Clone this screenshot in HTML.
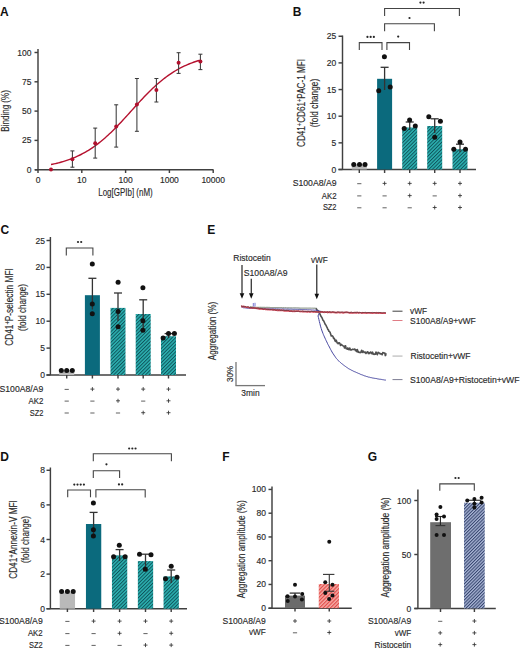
<!DOCTYPE html>
<html><head><meta charset="utf-8"><style>
html,body{margin:0;padding:0;background:#fff;width:520px;height:650px;overflow:hidden;position:relative}
svg text{font-family:"Liberation Sans", sans-serif}
</style></head><body>
<svg width="520" height="650" viewBox="0 0 520 650" style="position:absolute;left:0;top:0;font-family:'Liberation Sans', sans-serif">
<defs>
<pattern id="hT" patternUnits="userSpaceOnUse" width="2.5" height="2.5" patternTransform="rotate(45)">
<rect width="2.5" height="2.5" fill="#2cb0b0"/><rect x="0" y="0" width="0.95" height="2.5" fill="#0e535a"/></pattern>
<pattern id="hR" patternUnits="userSpaceOnUse" width="2.6" height="2.6" patternTransform="rotate(45)">
<rect width="2.6" height="2.6" fill="#f6a8a4"/><rect x="0" y="0" width="1.1" height="2.6" fill="#e04a46"/></pattern>
<pattern id="hB" patternUnits="userSpaceOnUse" width="2.3" height="2.3" patternTransform="rotate(45)">
<rect width="2.3" height="2.3" fill="#a9b5d5"/><rect x="0" y="0" width="1.0" height="2.3" fill="#34436c"/></pattern>
</defs>
<rect width="520" height="650" fill="#fff"/>
<text x="0" y="15.9" font-size="12" text-anchor="start" fill="#111" font-weight="bold">A</text>
<line x1="38" y1="49" x2="38" y2="169.8" stroke="#404040" stroke-width="1.45"/>
<line x1="35" y1="169.8" x2="213.5" y2="169.8" stroke="#404040" stroke-width="1.45"/>
<line x1="34.5" y1="52.5" x2="38" y2="52.5" stroke="#404040" stroke-width="1.45"/>
<text x="31.5" y="55.5" font-size="8.5" text-anchor="end" fill="#2a2a2a" font-weight="normal" stroke="#2a2a2a" stroke-width="0.15">100</text>
<line x1="34.5" y1="81.8" x2="38" y2="81.8" stroke="#404040" stroke-width="1.45"/>
<text x="31.5" y="84.8" font-size="8.5" text-anchor="end" fill="#2a2a2a" font-weight="normal" stroke="#2a2a2a" stroke-width="0.15">75</text>
<line x1="34.5" y1="111.1" x2="38" y2="111.1" stroke="#404040" stroke-width="1.45"/>
<text x="31.5" y="114.1" font-size="8.5" text-anchor="end" fill="#2a2a2a" font-weight="normal" stroke="#2a2a2a" stroke-width="0.15">50</text>
<line x1="34.5" y1="140.4" x2="38" y2="140.4" stroke="#404040" stroke-width="1.45"/>
<text x="31.5" y="143.4" font-size="8.5" text-anchor="end" fill="#2a2a2a" font-weight="normal" stroke="#2a2a2a" stroke-width="0.15">25</text>
<line x1="34.5" y1="169.8" x2="38" y2="169.8" stroke="#404040" stroke-width="1.45"/>
<text x="31.5" y="172.8" font-size="8.5" text-anchor="end" fill="#2a2a2a" font-weight="normal" stroke="#2a2a2a" stroke-width="0.15">0</text>
<line x1="38" y1="169.8" x2="38" y2="173" stroke="#404040" stroke-width="1.45"/>
<text x="38" y="183" font-size="8.5" text-anchor="middle" fill="#2a2a2a" font-weight="normal" stroke="#2a2a2a" stroke-width="0.15">0</text>
<line x1="81.8" y1="169.8" x2="81.8" y2="173" stroke="#404040" stroke-width="1.45"/>
<text x="81.8" y="183" font-size="8.5" text-anchor="middle" fill="#2a2a2a" font-weight="normal" stroke="#2a2a2a" stroke-width="0.15">10</text>
<line x1="125.6" y1="169.8" x2="125.6" y2="173" stroke="#404040" stroke-width="1.45"/>
<text x="125.6" y="183" font-size="8.5" text-anchor="middle" fill="#2a2a2a" font-weight="normal" stroke="#2a2a2a" stroke-width="0.15">100</text>
<line x1="169.4" y1="169.8" x2="169.4" y2="173" stroke="#404040" stroke-width="1.45"/>
<text x="169.4" y="183" font-size="8.5" text-anchor="middle" fill="#2a2a2a" font-weight="normal" stroke="#2a2a2a" stroke-width="0.15">1000</text>
<line x1="213.2" y1="169.8" x2="213.2" y2="173" stroke="#404040" stroke-width="1.45"/>
<text x="213.2" y="183" font-size="8.5" text-anchor="middle" fill="#2a2a2a" font-weight="normal" stroke="#2a2a2a" stroke-width="0.15">10000</text>
<text x="125.5" y="196.3" font-size="10" text-anchor="middle" fill="#2a2a2a" font-weight="normal" textLength="54.5" lengthAdjust="spacingAndGlyphs" stroke="#2a2a2a" stroke-width="0.15">Log[GPIb] (nM)</text>
<text x="8.6" y="110.9" font-size="10" text-anchor="middle" fill="#2a2a2a" font-weight="normal" transform="rotate(-90 8.6 110.9)" textLength="41.5" lengthAdjust="spacingAndGlyphs" stroke="#2a2a2a" stroke-width="0.15">Binding (%)</text>
<polyline points="51.00,164.54 52.50,164.24 54.00,163.92 55.50,163.58 57.00,163.22 58.50,162.85 60.00,162.46 61.50,162.04 63.00,161.61 64.50,161.16 66.00,160.68 67.50,160.18 69.00,159.66 70.50,159.11 72.00,158.54 73.50,157.94 75.00,157.31 76.50,156.65 78.00,155.97 79.50,155.25 81.00,154.50 82.50,153.73 84.00,152.92 85.50,152.07 87.00,151.20 88.50,150.29 90.00,149.34 91.50,148.36 93.00,147.34 94.50,146.29 96.00,145.20 97.50,144.08 99.00,142.92 100.50,141.73 102.00,140.49 103.50,139.23 105.00,137.93 106.50,136.59 108.00,135.23 109.50,133.83 111.00,132.40 112.50,130.94 114.00,129.45 115.50,127.94 117.00,126.40 118.50,124.84 120.00,123.25 121.50,121.65 123.00,120.04 124.50,118.40 126.00,116.76 127.50,115.11 129.00,113.45 130.50,111.79 132.00,110.13 133.50,108.47 135.00,106.81 136.50,105.16 138.00,103.51 139.50,101.88 141.00,100.27 142.50,98.67 144.00,97.08 145.50,95.52 147.00,93.98 148.50,92.47 150.00,90.98 151.50,89.52 153.00,88.09 154.50,86.70 156.00,85.33 157.50,84.00 159.00,82.69 160.50,81.43 162.00,80.20 163.50,79.00 165.00,77.84 166.50,76.72 168.00,75.63 169.50,74.58 171.00,73.57 172.50,72.59 174.00,71.64 175.50,70.73 177.00,69.85 178.50,69.01 180.00,68.20 181.50,67.43 183.00,66.68 184.50,65.96 186.00,65.28 187.50,64.62 189.00,64.00 190.50,63.40 192.00,62.82 193.50,62.28 195.00,61.75 196.50,61.25 198.00,60.78 199.50,60.32" fill="none" stroke="#b5122f" stroke-width="1.4"/>
<line x1="72.4" y1="150.9" x2="72.4" y2="167.2" stroke="#3a3a3a" stroke-width="1.05"/>
<line x1="70.4" y1="150.9" x2="74.4" y2="150.9" stroke="#3a3a3a" stroke-width="1.05"/>
<line x1="70.4" y1="167.2" x2="74.4" y2="167.2" stroke="#3a3a3a" stroke-width="1.05"/>
<line x1="95.2" y1="128.1" x2="95.2" y2="158.1" stroke="#3a3a3a" stroke-width="1.05"/>
<line x1="93.2" y1="128.1" x2="97.2" y2="128.1" stroke="#3a3a3a" stroke-width="1.05"/>
<line x1="93.2" y1="158.1" x2="97.2" y2="158.1" stroke="#3a3a3a" stroke-width="1.05"/>
<line x1="116.2" y1="104.8" x2="116.2" y2="147.1" stroke="#3a3a3a" stroke-width="1.05"/>
<line x1="114.2" y1="104.8" x2="118.2" y2="104.8" stroke="#3a3a3a" stroke-width="1.05"/>
<line x1="114.2" y1="147.1" x2="118.2" y2="147.1" stroke="#3a3a3a" stroke-width="1.05"/>
<line x1="136.9" y1="78.5" x2="136.9" y2="131.3" stroke="#3a3a3a" stroke-width="1.05"/>
<line x1="134.9" y1="78.5" x2="138.9" y2="78.5" stroke="#3a3a3a" stroke-width="1.05"/>
<line x1="134.9" y1="131.3" x2="138.9" y2="131.3" stroke="#3a3a3a" stroke-width="1.05"/>
<line x1="156.4" y1="78.5" x2="156.4" y2="102" stroke="#3a3a3a" stroke-width="1.05"/>
<line x1="154.4" y1="78.5" x2="158.4" y2="78.5" stroke="#3a3a3a" stroke-width="1.05"/>
<line x1="154.4" y1="102" x2="158.4" y2="102" stroke="#3a3a3a" stroke-width="1.05"/>
<line x1="178.6" y1="52.7" x2="178.6" y2="73.4" stroke="#3a3a3a" stroke-width="1.05"/>
<line x1="176.6" y1="52.7" x2="180.6" y2="52.7" stroke="#3a3a3a" stroke-width="1.05"/>
<line x1="176.6" y1="73.4" x2="180.6" y2="73.4" stroke="#3a3a3a" stroke-width="1.05"/>
<line x1="200.4" y1="54.2" x2="200.4" y2="69.6" stroke="#3a3a3a" stroke-width="1.05"/>
<line x1="198.4" y1="54.2" x2="202.4" y2="54.2" stroke="#3a3a3a" stroke-width="1.05"/>
<line x1="198.4" y1="69.6" x2="202.4" y2="69.6" stroke="#3a3a3a" stroke-width="1.05"/>
<circle cx="51" cy="169.6" r="2.0" fill="#b0102d"/>
<circle cx="72.4" cy="159.2" r="2.0" fill="#b0102d"/>
<circle cx="95.2" cy="143.3" r="2.0" fill="#b0102d"/>
<circle cx="116.2" cy="126.4" r="2.0" fill="#b0102d"/>
<circle cx="136.9" cy="104.6" r="2.0" fill="#b0102d"/>
<circle cx="156.4" cy="90.1" r="2.0" fill="#b0102d"/>
<circle cx="178.6" cy="62.8" r="2.0" fill="#b0102d"/>
<circle cx="200.4" cy="61.6" r="2.0" fill="#b0102d"/>
<text x="292.8" y="15.9" font-size="12" text-anchor="start" fill="#111" font-weight="bold">B</text>
<line x1="342.5" y1="35.5" x2="342.5" y2="169.5" stroke="#404040" stroke-width="1.45"/>
<line x1="338.5" y1="169.5" x2="476" y2="169.5" stroke="#404040" stroke-width="1.45"/>
<line x1="338.5" y1="36.25" x2="342.5" y2="36.25" stroke="#404040" stroke-width="1.45"/>
<text x="336.3" y="39.25" font-size="8.5" text-anchor="end" fill="#2a2a2a" font-weight="normal" stroke="#2a2a2a" stroke-width="0.15">25</text>
<line x1="338.5" y1="62.900000000000006" x2="342.5" y2="62.900000000000006" stroke="#404040" stroke-width="1.45"/>
<text x="336.3" y="65.9" font-size="8.5" text-anchor="end" fill="#2a2a2a" font-weight="normal" stroke="#2a2a2a" stroke-width="0.15">20</text>
<line x1="338.5" y1="89.55" x2="342.5" y2="89.55" stroke="#404040" stroke-width="1.45"/>
<text x="336.3" y="92.55" font-size="8.5" text-anchor="end" fill="#2a2a2a" font-weight="normal" stroke="#2a2a2a" stroke-width="0.15">15</text>
<line x1="338.5" y1="116.2" x2="342.5" y2="116.2" stroke="#404040" stroke-width="1.45"/>
<text x="336.3" y="119.2" font-size="8.5" text-anchor="end" fill="#2a2a2a" font-weight="normal" stroke="#2a2a2a" stroke-width="0.15">10</text>
<line x1="338.5" y1="142.85" x2="342.5" y2="142.85" stroke="#404040" stroke-width="1.45"/>
<text x="336.3" y="145.85" font-size="8.5" text-anchor="end" fill="#2a2a2a" font-weight="normal" stroke="#2a2a2a" stroke-width="0.15">5</text>
<line x1="338.5" y1="169.5" x2="342.5" y2="169.5" stroke="#404040" stroke-width="1.45"/>
<text x="336.3" y="172.5" font-size="8.5" text-anchor="end" fill="#2a2a2a" font-weight="normal" stroke="#2a2a2a" stroke-width="0.15">0</text>
<rect x="351.8" y="164.3" width="15" height="5.199999999999989" fill="#b9b9b9"/>
<rect x="377.1" y="78.8" width="15" height="90.7" fill="#0b6a7d"/>
<rect x="402.2" y="127.5" width="15" height="42.0" fill="url(#hT)"/>
<rect x="427.2" y="126" width="15" height="43.5" fill="url(#hT)"/>
<rect x="452.5" y="149.2" width="15" height="20.30000000000001" fill="url(#hT)"/>
<line x1="359.3" y1="169.5" x2="359.3" y2="173" stroke="#404040" stroke-width="1.45"/>
<line x1="384.6" y1="169.5" x2="384.6" y2="173" stroke="#404040" stroke-width="1.45"/>
<line x1="409.7" y1="169.5" x2="409.7" y2="173" stroke="#404040" stroke-width="1.45"/>
<line x1="434.7" y1="169.5" x2="434.7" y2="173" stroke="#404040" stroke-width="1.45"/>
<line x1="460" y1="169.5" x2="460" y2="173" stroke="#404040" stroke-width="1.45"/>
<line x1="384.6" y1="67.3" x2="384.6" y2="90" stroke="#333" stroke-width="1.3"/>
<line x1="380.6" y1="67.3" x2="388.6" y2="67.3" stroke="#333" stroke-width="1.3"/>
<line x1="409.7" y1="122" x2="409.7" y2="130" stroke="#333" stroke-width="1.3"/>
<line x1="405.7" y1="122" x2="413.7" y2="122" stroke="#333" stroke-width="1.3"/>
<line x1="434.7" y1="118.8" x2="434.7" y2="133" stroke="#333" stroke-width="1.3"/>
<line x1="430.7" y1="118.8" x2="438.7" y2="118.8" stroke="#333" stroke-width="1.3"/>
<line x1="460" y1="144.2" x2="460" y2="152" stroke="#333" stroke-width="1.3"/>
<line x1="456.0" y1="144.2" x2="464.0" y2="144.2" stroke="#333" stroke-width="1.3"/>
<circle cx="353.75" cy="164.5" r="2.5" fill="#111"/>
<circle cx="359.5" cy="164.5" r="2.5" fill="#111"/>
<circle cx="365" cy="164.5" r="2.5" fill="#111"/>
<circle cx="384.4" cy="56.7" r="2.5" fill="#111"/>
<circle cx="378.7" cy="90.8" r="2.5" fill="#111"/>
<circle cx="390.2" cy="86.9" r="2.5" fill="#111"/>
<circle cx="404.2" cy="128.5" r="2.5" fill="#111"/>
<circle cx="409.6" cy="119.9" r="2.5" fill="#111"/>
<circle cx="415.3" cy="126" r="2.5" fill="#111"/>
<circle cx="428.8" cy="116.8" r="2.5" fill="#111"/>
<circle cx="440.4" cy="121.2" r="2.5" fill="#111"/>
<circle cx="434.7" cy="137.3" r="2.5" fill="#111"/>
<circle cx="453.8" cy="149.2" r="2.5" fill="#111"/>
<circle cx="460" cy="142" r="2.5" fill="#111"/>
<circle cx="465.5" cy="149.2" r="2.5" fill="#111"/>
<path d="M359.3 50 V42.6 H382 V50" fill="none" stroke="#444" stroke-width="1.1"/>
<circle cx="367.45" cy="36.9" r="1.1" fill="#262626"/>
<circle cx="370.65" cy="36.9" r="1.1" fill="#262626"/>
<circle cx="373.84999999999997" cy="36.9" r="1.1" fill="#262626"/>
<path d="M386.9 50 V42.6 H409.5 V50" fill="none" stroke="#444" stroke-width="1.1"/>
<circle cx="398.2" cy="36.6" r="1.1" fill="#262626"/>
<path d="M384.6 31.3 V23.8 H434.4 V31.3" fill="none" stroke="#444" stroke-width="1.1"/>
<circle cx="409.5" cy="18" r="1.1" fill="#262626"/>
<path d="M384.6 16 V8.5 H459.4 V16" fill="none" stroke="#444" stroke-width="1.1"/>
<circle cx="420.4" cy="2.6" r="1.1" fill="#262626"/>
<circle cx="423.6" cy="2.6" r="1.1" fill="#262626"/>
<text x="336.5" y="186.3" font-size="8.8" text-anchor="end" fill="#2a2a2a" font-weight="normal" textLength="43.8" lengthAdjust="spacingAndGlyphs" stroke="#2a2a2a" stroke-width="0.15">S100A8/A9</text>
<text x="336.5" y="198.5" font-size="8.8" text-anchor="end" fill="#2a2a2a" font-weight="normal" textLength="14.8" lengthAdjust="spacingAndGlyphs" stroke="#2a2a2a" stroke-width="0.15">AK2</text>
<text x="336.5" y="210.4" font-size="8.8" text-anchor="end" fill="#2a2a2a" font-weight="normal" textLength="13.6" lengthAdjust="spacingAndGlyphs" stroke="#2a2a2a" stroke-width="0.15">SZ2</text>
<path d="M357.20 183.70 h4.2" stroke="#444" stroke-width="0.85" fill="none"/>
<path d="M382.60 183.40 h4 M384.60 181.40 v4" stroke="#333" stroke-width="0.85" fill="none"/>
<path d="M407.70 183.40 h4 M409.70 181.40 v4" stroke="#333" stroke-width="0.85" fill="none"/>
<path d="M432.70 183.40 h4 M434.70 181.40 v4" stroke="#333" stroke-width="0.85" fill="none"/>
<path d="M458.00 183.40 h4 M460.00 181.40 v4" stroke="#333" stroke-width="0.85" fill="none"/>
<path d="M357.20 195.90 h4.2" stroke="#444" stroke-width="0.85" fill="none"/>
<path d="M382.50 195.90 h4.2" stroke="#444" stroke-width="0.85" fill="none"/>
<path d="M407.70 195.60 h4 M409.70 193.60 v4" stroke="#333" stroke-width="0.85" fill="none"/>
<path d="M432.60 195.90 h4.2" stroke="#444" stroke-width="0.85" fill="none"/>
<path d="M458.00 195.60 h4 M460.00 193.60 v4" stroke="#333" stroke-width="0.85" fill="none"/>
<path d="M357.20 207.80 h4.2" stroke="#444" stroke-width="0.85" fill="none"/>
<path d="M382.50 207.80 h4.2" stroke="#444" stroke-width="0.85" fill="none"/>
<path d="M407.60 207.80 h4.2" stroke="#444" stroke-width="0.85" fill="none"/>
<path d="M432.70 207.50 h4 M434.70 205.50 v4" stroke="#333" stroke-width="0.85" fill="none"/>
<path d="M458.00 207.50 h4 M460.00 205.50 v4" stroke="#333" stroke-width="0.85" fill="none"/>
<text x="304.5" y="103" font-size="10" text-anchor="middle" fill="#2a2a2a" font-weight="normal" transform="rotate(-90 304.5 103)" textLength="88" lengthAdjust="spacingAndGlyphs" stroke="#2a2a2a" stroke-width="0.15">CD41<tspan font-size="7" dy="-2.6">+</tspan><tspan dy="2.6">CD61</tspan><tspan font-size="7" dy="-2.6">+</tspan><tspan dy="2.6">PAC-1 MFI</tspan></text>
<text x="318" y="103" font-size="10" text-anchor="middle" fill="#2a2a2a" font-weight="normal" transform="rotate(-90 318 103)" textLength="48.4" lengthAdjust="spacingAndGlyphs" stroke="#2a2a2a" stroke-width="0.15">(fold change)</text>
<text x="0.4" y="234.1" font-size="12" text-anchor="start" fill="#111" font-weight="bold">C</text>
<line x1="50.4" y1="237" x2="50.4" y2="375" stroke="#404040" stroke-width="1.45"/>
<line x1="46.5" y1="375" x2="186" y2="375" stroke="#404040" stroke-width="1.45"/>
<line x1="46.5" y1="240.5" x2="50.4" y2="240.5" stroke="#404040" stroke-width="1.45"/>
<text x="45" y="243.5" font-size="8.5" text-anchor="end" fill="#2a2a2a" font-weight="normal" stroke="#2a2a2a" stroke-width="0.15">25</text>
<line x1="46.5" y1="267.4" x2="50.4" y2="267.4" stroke="#404040" stroke-width="1.45"/>
<text x="45" y="270.4" font-size="8.5" text-anchor="end" fill="#2a2a2a" font-weight="normal" stroke="#2a2a2a" stroke-width="0.15">20</text>
<line x1="46.5" y1="294.3" x2="50.4" y2="294.3" stroke="#404040" stroke-width="1.45"/>
<text x="45" y="297.3" font-size="8.5" text-anchor="end" fill="#2a2a2a" font-weight="normal" stroke="#2a2a2a" stroke-width="0.15">15</text>
<line x1="46.5" y1="321.2" x2="50.4" y2="321.2" stroke="#404040" stroke-width="1.45"/>
<text x="45" y="324.2" font-size="8.5" text-anchor="end" fill="#2a2a2a" font-weight="normal" stroke="#2a2a2a" stroke-width="0.15">10</text>
<line x1="46.5" y1="348.1" x2="50.4" y2="348.1" stroke="#404040" stroke-width="1.45"/>
<text x="45" y="351.1" font-size="8.5" text-anchor="end" fill="#2a2a2a" font-weight="normal" stroke="#2a2a2a" stroke-width="0.15">5</text>
<line x1="46.5" y1="375.0" x2="50.4" y2="375.0" stroke="#404040" stroke-width="1.45"/>
<text x="45" y="378.0" font-size="8.5" text-anchor="end" fill="#2a2a2a" font-weight="normal" stroke="#2a2a2a" stroke-width="0.15">0</text>
<rect x="59.2" y="370.3" width="15" height="4.699999999999989" fill="#b9b9b9"/>
<rect x="84.9" y="295.2" width="15" height="79.80000000000001" fill="#0b6a7d"/>
<rect x="110.5" y="307.9" width="15" height="67.10000000000002" fill="url(#hT)"/>
<rect x="135.7" y="314" width="15" height="61" fill="url(#hT)"/>
<rect x="161.0" y="336.2" width="15" height="38.80000000000001" fill="url(#hT)"/>
<line x1="66.7" y1="375" x2="66.7" y2="378.5" stroke="#404040" stroke-width="1.45"/>
<line x1="92.4" y1="375" x2="92.4" y2="378.5" stroke="#404040" stroke-width="1.45"/>
<line x1="118" y1="375" x2="118" y2="378.5" stroke="#404040" stroke-width="1.45"/>
<line x1="143.2" y1="375" x2="143.2" y2="378.5" stroke="#404040" stroke-width="1.45"/>
<line x1="168.5" y1="375" x2="168.5" y2="378.5" stroke="#404040" stroke-width="1.45"/>
<line x1="92.4" y1="278.3" x2="92.4" y2="309.5" stroke="#333" stroke-width="1.3"/>
<line x1="88.4" y1="278.3" x2="96.4" y2="278.3" stroke="#333" stroke-width="1.3"/>
<line x1="118" y1="293" x2="118" y2="321" stroke="#333" stroke-width="1.3"/>
<line x1="114.0" y1="293" x2="122.0" y2="293" stroke="#333" stroke-width="1.3"/>
<line x1="143.2" y1="299.8" x2="143.2" y2="328" stroke="#333" stroke-width="1.3"/>
<line x1="139.2" y1="299.8" x2="147.2" y2="299.8" stroke="#333" stroke-width="1.3"/>
<line x1="168.5" y1="333.6" x2="168.5" y2="338" stroke="#333" stroke-width="1.3"/>
<line x1="164.6" y1="333.6" x2="172.4" y2="333.6" stroke="#333" stroke-width="1.3"/>
<circle cx="61.3" cy="370.4" r="2.5" fill="#111"/>
<circle cx="66.7" cy="370.4" r="2.5" fill="#111"/>
<circle cx="72.3" cy="370.4" r="2.5" fill="#111"/>
<circle cx="92.3" cy="264" r="2.5" fill="#111"/>
<circle cx="92.3" cy="303.9" r="2.5" fill="#111"/>
<circle cx="92.3" cy="313.8" r="2.5" fill="#111"/>
<circle cx="118.1" cy="282.3" r="2.5" fill="#111"/>
<circle cx="118.1" cy="311.4" r="2.5" fill="#111"/>
<circle cx="118.1" cy="326.7" r="2.5" fill="#111"/>
<circle cx="142.9" cy="287.7" r="2.5" fill="#111"/>
<circle cx="142.9" cy="320.8" r="2.5" fill="#111"/>
<circle cx="142.9" cy="330.2" r="2.5" fill="#111"/>
<circle cx="163.1" cy="338" r="2.5" fill="#111"/>
<circle cx="168.5" cy="333.5" r="2.5" fill="#111"/>
<circle cx="174.4" cy="333.5" r="2.5" fill="#111"/>
<path d="M66.3 255.4 V248 H92.9 V255.4" fill="none" stroke="#444" stroke-width="1.1"/>
<circle cx="78.0" cy="242" r="1.1" fill="#262626"/>
<circle cx="81.19999999999999" cy="242" r="1.1" fill="#262626"/>
<text x="43.3" y="392" font-size="8.8" text-anchor="end" fill="#2a2a2a" font-weight="normal" textLength="43.8" lengthAdjust="spacingAndGlyphs" stroke="#2a2a2a" stroke-width="0.15">S100A8/A9</text>
<text x="43.3" y="403.7" font-size="8.8" text-anchor="end" fill="#2a2a2a" font-weight="normal" textLength="14.8" lengthAdjust="spacingAndGlyphs" stroke="#2a2a2a" stroke-width="0.15">AK2</text>
<text x="43.3" y="415.6" font-size="8.8" text-anchor="end" fill="#2a2a2a" font-weight="normal" textLength="13.6" lengthAdjust="spacingAndGlyphs" stroke="#2a2a2a" stroke-width="0.15">SZ2</text>
<path d="M64.60 389.40 h4.2" stroke="#444" stroke-width="0.85" fill="none"/>
<path d="M90.40 389.10 h4 M92.40 387.10 v4" stroke="#333" stroke-width="0.85" fill="none"/>
<path d="M116.00 389.10 h4 M118.00 387.10 v4" stroke="#333" stroke-width="0.85" fill="none"/>
<path d="M141.20 389.10 h4 M143.20 387.10 v4" stroke="#333" stroke-width="0.85" fill="none"/>
<path d="M166.50 389.10 h4 M168.50 387.10 v4" stroke="#333" stroke-width="0.85" fill="none"/>
<path d="M64.60 401.10 h4.2" stroke="#444" stroke-width="0.85" fill="none"/>
<path d="M90.30 401.10 h4.2" stroke="#444" stroke-width="0.85" fill="none"/>
<path d="M116.00 400.80 h4 M118.00 398.80 v4" stroke="#333" stroke-width="0.85" fill="none"/>
<path d="M141.10 401.10 h4.2" stroke="#444" stroke-width="0.85" fill="none"/>
<path d="M166.50 400.80 h4 M168.50 398.80 v4" stroke="#333" stroke-width="0.85" fill="none"/>
<path d="M64.60 413.00 h4.2" stroke="#444" stroke-width="0.85" fill="none"/>
<path d="M90.30 413.00 h4.2" stroke="#444" stroke-width="0.85" fill="none"/>
<path d="M115.90 413.00 h4.2" stroke="#444" stroke-width="0.85" fill="none"/>
<path d="M141.20 412.70 h4 M143.20 410.70 v4" stroke="#333" stroke-width="0.85" fill="none"/>
<path d="M166.50 412.70 h4 M168.50 410.70 v4" stroke="#333" stroke-width="0.85" fill="none"/>
<text x="12.6" y="307" font-size="10" text-anchor="middle" fill="#2a2a2a" font-weight="normal" transform="rotate(-90 12.6 307)" textLength="77.5" lengthAdjust="spacingAndGlyphs" stroke="#2a2a2a" stroke-width="0.15">CD41<tspan font-size="7" dy="-2.6">+</tspan><tspan dy="2.6">P-selectin MFI</tspan></text>
<text x="25.8" y="307.5" font-size="10" text-anchor="middle" fill="#2a2a2a" font-weight="normal" transform="rotate(-90 25.8 307.5)" textLength="47" lengthAdjust="spacingAndGlyphs" stroke="#2a2a2a" stroke-width="0.15">(fold change)</text>
<text x="0.3" y="460.9" font-size="12" text-anchor="start" fill="#111" font-weight="bold">D</text>
<line x1="50.4" y1="467.5" x2="50.4" y2="608.7" stroke="#404040" stroke-width="1.45"/>
<line x1="46.5" y1="608.7" x2="187" y2="608.7" stroke="#404040" stroke-width="1.45"/>
<line x1="46.5" y1="470.30000000000007" x2="50.4" y2="470.30000000000007" stroke="#404040" stroke-width="1.45"/>
<text x="45" y="473.30000000000007" font-size="8.5" text-anchor="end" fill="#2a2a2a" font-weight="normal" stroke="#2a2a2a" stroke-width="0.15">8</text>
<line x1="46.5" y1="504.90000000000003" x2="50.4" y2="504.90000000000003" stroke="#404040" stroke-width="1.45"/>
<text x="45" y="507.90000000000003" font-size="8.5" text-anchor="end" fill="#2a2a2a" font-weight="normal" stroke="#2a2a2a" stroke-width="0.15">6</text>
<line x1="46.5" y1="539.5" x2="50.4" y2="539.5" stroke="#404040" stroke-width="1.45"/>
<text x="45" y="542.5" font-size="8.5" text-anchor="end" fill="#2a2a2a" font-weight="normal" stroke="#2a2a2a" stroke-width="0.15">4</text>
<line x1="46.5" y1="574.1" x2="50.4" y2="574.1" stroke="#404040" stroke-width="1.45"/>
<text x="45" y="577.1" font-size="8.5" text-anchor="end" fill="#2a2a2a" font-weight="normal" stroke="#2a2a2a" stroke-width="0.15">2</text>
<line x1="46.5" y1="608.7" x2="50.4" y2="608.7" stroke="#404040" stroke-width="1.45"/>
<text x="45" y="611.7" font-size="8.5" text-anchor="end" fill="#2a2a2a" font-weight="normal" stroke="#2a2a2a" stroke-width="0.15">0</text>
<rect x="59.75000000000001" y="592.3" width="15.3" height="16.40000000000009" fill="#b9b9b9"/>
<rect x="85.94999999999999" y="524" width="15.3" height="84.70000000000005" fill="#0b6a7d"/>
<rect x="111.94999999999999" y="555.4" width="15.3" height="53.30000000000007" fill="url(#hT)"/>
<rect x="137.85" y="561.1" width="15.3" height="47.60000000000002" fill="url(#hT)"/>
<rect x="163.54999999999998" y="576.4" width="15.3" height="32.30000000000007" fill="url(#hT)"/>
<line x1="67.4" y1="608.7" x2="67.4" y2="612" stroke="#404040" stroke-width="1.45"/>
<line x1="93.6" y1="608.7" x2="93.6" y2="612" stroke="#404040" stroke-width="1.45"/>
<line x1="119.6" y1="608.7" x2="119.6" y2="612" stroke="#404040" stroke-width="1.45"/>
<line x1="145.5" y1="608.7" x2="145.5" y2="612" stroke="#404040" stroke-width="1.45"/>
<line x1="171.2" y1="608.7" x2="171.2" y2="612" stroke="#404040" stroke-width="1.45"/>
<line x1="93.6" y1="512.4" x2="93.6" y2="535" stroke="#333" stroke-width="1.3"/>
<line x1="89.6" y1="512.4" x2="97.6" y2="512.4" stroke="#333" stroke-width="1.3"/>
<line x1="119.6" y1="549.6" x2="119.6" y2="561" stroke="#333" stroke-width="1.3"/>
<line x1="115.6" y1="549.6" x2="123.6" y2="549.6" stroke="#333" stroke-width="1.3"/>
<line x1="145.5" y1="554.2" x2="145.5" y2="568" stroke="#333" stroke-width="1.3"/>
<line x1="141.5" y1="554.2" x2="149.5" y2="554.2" stroke="#333" stroke-width="1.3"/>
<line x1="171.2" y1="570" x2="171.2" y2="583" stroke="#333" stroke-width="1.3"/>
<line x1="167.2" y1="570" x2="175.2" y2="570" stroke="#333" stroke-width="1.3"/>
<circle cx="61.6" cy="591.4" r="2.5" fill="#111"/>
<circle cx="67.4" cy="591.4" r="2.5" fill="#111"/>
<circle cx="73.2" cy="591.4" r="2.5" fill="#111"/>
<circle cx="93.4" cy="502.9" r="2.5" fill="#111"/>
<circle cx="93.4" cy="529.7" r="2.5" fill="#111"/>
<circle cx="93.4" cy="536" r="2.5" fill="#111"/>
<circle cx="113.6" cy="556.8" r="2.5" fill="#111"/>
<circle cx="119.3" cy="545.3" r="2.5" fill="#111"/>
<circle cx="125.1" cy="556.8" r="2.5" fill="#111"/>
<circle cx="139.5" cy="554.2" r="2.5" fill="#111"/>
<circle cx="151" cy="554.8" r="2.5" fill="#111"/>
<circle cx="145.3" cy="569.2" r="2.5" fill="#111"/>
<circle cx="165.5" cy="578.7" r="2.5" fill="#111"/>
<circle cx="177" cy="577.3" r="2.5" fill="#111"/>
<circle cx="171.2" cy="566.3" r="2.5" fill="#111"/>
<path d="M67.7 497.3 V490 H90.5 V497.3" fill="none" stroke="#444" stroke-width="1.1"/>
<circle cx="74.3" cy="484.6" r="1.1" fill="#262626"/>
<circle cx="77.5" cy="484.6" r="1.1" fill="#262626"/>
<circle cx="80.69999999999999" cy="484.6" r="1.1" fill="#262626"/>
<circle cx="83.89999999999999" cy="484.6" r="1.1" fill="#262626"/>
<path d="M95.9 497.5 V489.7 H145.2 V497.5" fill="none" stroke="#444" stroke-width="1.1"/>
<circle cx="118.95" cy="484.4" r="1.1" fill="#262626"/>
<circle cx="122.14999999999999" cy="484.4" r="1.1" fill="#262626"/>
<path d="M93.3 478 V470.7 H119.6 V478" fill="none" stroke="#444" stroke-width="1.1"/>
<circle cx="106.44999999999999" cy="464.3" r="1.1" fill="#262626"/>
<path d="M93.3 461.2 V453.8 H171.4 V461.2" fill="none" stroke="#444" stroke-width="1.1"/>
<circle cx="129.15" cy="448.5" r="1.1" fill="#262626"/>
<circle cx="132.35" cy="448.5" r="1.1" fill="#262626"/>
<circle cx="135.54999999999998" cy="448.5" r="1.1" fill="#262626"/>
<text x="42.7" y="624" font-size="8.8" text-anchor="end" fill="#2a2a2a" font-weight="normal" textLength="43.8" lengthAdjust="spacingAndGlyphs" stroke="#2a2a2a" stroke-width="0.15">S100A8/A9</text>
<text x="42.7" y="636.2" font-size="8.8" text-anchor="end" fill="#2a2a2a" font-weight="normal" textLength="14.8" lengthAdjust="spacingAndGlyphs" stroke="#2a2a2a" stroke-width="0.15">AK2</text>
<text x="42.7" y="648" font-size="8.8" text-anchor="end" fill="#2a2a2a" font-weight="normal" textLength="13.6" lengthAdjust="spacingAndGlyphs" stroke="#2a2a2a" stroke-width="0.15">SZ2</text>
<path d="M65.30 621.40 h4.2" stroke="#444" stroke-width="0.85" fill="none"/>
<path d="M91.60 621.10 h4 M93.60 619.10 v4" stroke="#333" stroke-width="0.85" fill="none"/>
<path d="M117.60 621.10 h4 M119.60 619.10 v4" stroke="#333" stroke-width="0.85" fill="none"/>
<path d="M143.50 621.10 h4 M145.50 619.10 v4" stroke="#333" stroke-width="0.85" fill="none"/>
<path d="M169.20 621.10 h4 M171.20 619.10 v4" stroke="#333" stroke-width="0.85" fill="none"/>
<path d="M65.30 633.60 h4.2" stroke="#444" stroke-width="0.85" fill="none"/>
<path d="M91.50 633.60 h4.2" stroke="#444" stroke-width="0.85" fill="none"/>
<path d="M117.60 633.30 h4 M119.60 631.30 v4" stroke="#333" stroke-width="0.85" fill="none"/>
<path d="M143.40 633.60 h4.2" stroke="#444" stroke-width="0.85" fill="none"/>
<path d="M169.20 633.30 h4 M171.20 631.30 v4" stroke="#333" stroke-width="0.85" fill="none"/>
<path d="M65.30 645.40 h4.2" stroke="#444" stroke-width="0.85" fill="none"/>
<path d="M91.50 645.40 h4.2" stroke="#444" stroke-width="0.85" fill="none"/>
<path d="M117.50 645.40 h4.2" stroke="#444" stroke-width="0.85" fill="none"/>
<path d="M143.50 645.10 h4 M145.50 643.10 v4" stroke="#333" stroke-width="0.85" fill="none"/>
<path d="M169.20 645.10 h4 M171.20 643.10 v4" stroke="#333" stroke-width="0.85" fill="none"/>
<text x="16.8" y="539.5" font-size="10" text-anchor="middle" fill="#2a2a2a" font-weight="normal" transform="rotate(-90 16.8 539.5)" textLength="78.5" lengthAdjust="spacingAndGlyphs" stroke="#2a2a2a" stroke-width="0.15">CD41<tspan font-size="7" dy="-2.6">+</tspan><tspan dy="2.6">Annexin-V MFI</tspan></text>
<text x="28.8" y="539.5" font-size="10" text-anchor="middle" fill="#2a2a2a" font-weight="normal" transform="rotate(-90 28.8 539.5)" textLength="47" lengthAdjust="spacingAndGlyphs" stroke="#2a2a2a" stroke-width="0.15">(fold change)</text>
<text x="207.3" y="233.9" font-size="12" text-anchor="start" fill="#111" font-weight="bold">E</text>
<text x="233.25" y="260.5" font-size="8.8" text-anchor="start" fill="#2a2a2a" font-weight="normal" textLength="37.5" lengthAdjust="spacingAndGlyphs" stroke="#2a2a2a" stroke-width="0.15">Ristocetin</text>
<text x="243.75" y="275.5" font-size="8.8" text-anchor="start" fill="#2a2a2a" font-weight="normal" textLength="43.75" lengthAdjust="spacingAndGlyphs" stroke="#2a2a2a" stroke-width="0.15">S100A8/A9</text>
<text x="311" y="262.6" font-size="8.8" text-anchor="start" fill="#2a2a2a" font-weight="normal" textLength="16.8" lengthAdjust="spacingAndGlyphs" stroke="#2a2a2a" stroke-width="0.15">vWF</text>
<line x1="242" y1="265" x2="242" y2="293.75" stroke="#111" stroke-width="1.1"/>
<path d="M239.7 293.15 L244.3 293.15 L242 298.75 Z" fill="#111"/>
<line x1="251.25" y1="278.75" x2="251.25" y2="293.75" stroke="#111" stroke-width="1.1"/>
<path d="M248.95 293.15 L253.55 293.15 L251.25 298.75 Z" fill="#111"/>
<line x1="316.8" y1="264.5" x2="316.8" y2="294.3" stroke="#111" stroke-width="1.1"/>
<path d="M314.5 293.7 L319.1 293.7 L316.8 299.3 Z" fill="#111"/>
<polyline points="250.00,306.85 250.22,306.92 250.38,306.90 250.51,306.95 250.61,306.97 250.70,306.87 250.78,306.87 250.89,307.05 251.02,306.95 251.20,306.97 251.44,307.14 251.74,307.05 252.14,307.14 252.63,307.09 253.23,307.15 253.96,307.08 254.83,307.20 255.86,307.28 257.05,307.24 258.43,307.31 260.00,307.33 260.30,307.22 260.61,307.36 260.93,307.34 261.27,307.29 261.61,307.24 261.96,307.41 262.33,307.34 262.70,307.40 263.09,307.44 263.48,307.41 263.89,307.46 264.30,307.36 264.72,307.45 265.16,307.39 265.60,307.50 266.05,307.49 266.50,307.35 266.97,307.36 267.44,307.39 267.92,307.55 268.41,307.45 268.90,307.50 269.40,307.44 269.91,307.49 270.43,307.48 270.95,307.48 271.48,307.53 272.01,307.54 272.55,307.62 273.10,307.58 273.65,307.64 274.20,307.64 274.76,307.67 275.33,307.62 275.90,307.53 276.47,307.68 277.05,307.71 277.63,307.71 278.21,307.65 278.80,307.69 279.39,307.60 279.99,307.73 280.59,307.69 281.19,307.65 281.79,307.61 282.39,307.78 283.00,307.82 283.61,307.65 284.22,307.80 284.83,307.73 285.44,307.69 286.05,307.73 286.67,307.84 287.28,307.87 287.90,307.71 288.51,307.84 289.12,307.73 289.74,307.88 290.35,307.81 290.96,307.93 291.58,307.96 292.19,307.88 292.79,307.99 293.40,307.86 294.01,307.82 294.61,307.94 295.21,307.84 295.81,307.88 296.41,307.93 297.00,307.98 297.59,307.90 298.17,307.89 298.76,308.06 299.34,307.96 299.91,308.10 300.48,308.10 301.05,308.00 301.61,308.03 302.17,308.05 302.72,308.09 303.27,308.08 303.81,308.09 304.34,308.11 304.87,308.18 305.40,308.10 305.91,308.10 306.43,308.16 306.93,308.08 307.43,308.10 307.92,308.24 308.40,308.16 308.88,308.17 309.34,308.07 309.80,308.16 310.25,308.20 310.70,308.10 311.13,308.22 311.56,308.23 311.97,308.13 312.38,308.25 312.78,308.22 313.17,308.27 313.55,308.21 313.92,308.29 314.27,308.30 314.62,308.16 314.96,308.18 315.28,308.31 315.60,308.37 315.90,308.23 316.20,308.28 316.48,308.31 316.74,308.26 317.00,308.27" fill="none" stroke="#98a298" stroke-width="1.2" stroke-linejoin="round"/>
<polyline points="316.00,308.41 316.39,308.94 316.94,309.80 317.58,310.29 318.29,311.30 319.00,312.77 319.59,313.03 320.19,314.67 320.81,316.04 321.48,316.92 322.21,318.23 323.00,320.30 323.52,320.71 324.07,321.70 324.65,323.04 325.26,324.44 325.88,325.01 326.50,326.40 327.14,327.57 327.77,329.21 328.39,329.90 329.00,331.36 329.59,331.66 330.15,332.51 330.71,334.35 331.26,335.94 331.81,335.64 332.38,335.91 332.98,336.49 333.61,338.47 334.28,338.34 335.00,340.86 335.50,341.46 336.01,340.12 336.53,340.87 337.05,342.82 337.59,342.82 338.14,343.73 338.71,342.88 339.29,342.71 339.90,343.58 340.52,345.40 341.16,344.33 341.83,344.94 342.53,345.52 343.25,345.91 344.00,346.25 344.51,347.92 345.04,346.01 345.58,345.82 346.14,348.67 346.71,348.72 347.30,349.24 347.89,347.91 348.50,349.57 349.12,349.72 349.74,347.95 350.37,349.62 351.01,350.07 351.65,349.78 352.29,349.57 352.93,349.11 353.58,349.43 354.22,349.29 354.86,349.02 355.50,350.64 356.14,349.95 356.77,351.57 357.39,349.58 358.00,352.13 358.61,351.68 359.22,352.45 359.83,352.50 360.43,352.62 361.04,351.83 361.65,350.35 362.26,352.50 362.87,350.99 363.48,351.44 364.09,352.54 364.70,352.23 365.30,352.00 365.91,353.54 366.52,352.70 367.13,352.01 367.74,351.83 368.35,353.60 368.96,352.59 369.57,353.52 370.17,352.38 370.78,352.01 371.39,353.03 372.00,353.89 372.62,352.15 373.27,353.96 373.93,354.39 374.61,354.14 375.30,354.26 376.00,352.04 376.71,353.85 377.42,354.57 378.13,352.36 378.83,353.04 379.53,353.10 380.22,353.88 380.89,353.65 381.54,353.84 382.17,354.75 382.77,352.63 383.35,352.82 383.89,353.07 384.40,353.11 384.86,352.99 385.29,355.57 385.67,355.26 386.00,353.14" fill="none" stroke="#505050" stroke-width="1.6" stroke-linejoin="round"/>
<polyline points="241.00,306.80 241.26,306.81 241.45,306.87 241.58,306.94 241.69,307.07 241.78,307.14 241.89,307.18 242.03,307.23 242.23,307.35 242.50,307.41 242.87,307.59 243.37,307.73 244.00,307.76 244.80,307.81 245.78,307.93 246.97,308.07 248.39,308.22 250.06,308.36 252.00,308.38 252.36,308.48 252.74,308.46 253.13,308.43 253.53,308.44 253.95,308.48 254.38,308.53 254.83,308.49 255.28,308.56 255.75,308.53 256.24,308.50 256.73,308.57 257.24,308.62 257.76,308.51 258.29,308.59 258.83,308.61 259.38,308.71 259.94,308.73 260.51,308.63 261.09,308.75 261.68,308.74 262.28,308.65 262.89,308.70 263.50,308.65 264.13,308.80 264.76,308.78 265.40,308.84 266.05,308.83 266.71,308.82 267.37,308.84 268.04,308.82 268.71,308.74 269.39,308.85 270.08,308.74 270.77,308.78 271.47,308.92 272.17,308.79 272.88,308.81 273.59,308.82 274.30,308.99 275.02,308.86 275.74,308.84 276.47,309.02 277.20,308.89 277.93,309.04 278.66,309.02 279.39,309.07 280.13,309.10 280.87,309.04 281.60,309.10 282.34,308.96 283.08,309.12 283.82,309.08 284.56,309.14 285.30,309.03 286.04,309.17 286.78,309.22 287.51,309.06 288.25,309.13 288.98,309.19 289.71,309.26 290.44,309.16 291.17,309.16 291.89,309.19 292.61,309.28 293.32,309.33 294.03,309.27 294.74,309.28 295.45,309.31 296.14,309.31 296.84,309.35 297.53,309.30 298.21,309.40 298.88,309.51 299.55,309.42 300.22,309.51 300.88,309.41 301.53,309.54 302.17,309.57 302.80,309.57 303.43,309.57 304.05,309.58 304.66,309.64 305.26,309.71 305.85,309.58 306.44,309.60 307.01,309.75 307.57,309.81 308.13,309.75 308.67,309.77 309.20,309.85 309.72,309.77 310.23,309.81 310.73,309.83 311.21,309.93 311.69,309.91 312.15,309.92 312.60,310.04 313.03,310.12 313.45,310.02 313.86,310.14 314.25,310.11 314.63,310.23 315.00,310.21 315.35,310.18 315.68,310.21 316.00,310.20 321.15,311.48 319.41,313.06 318.00,315.93 318.44,317.56 318.88,319.39 319.37,321.53 319.90,323.63 320.51,326.15 321.22,328.49 322.04,331.01 323.00,333.49 323.45,334.65 323.94,335.78 324.46,336.90 325.01,338.11 325.58,339.40 326.18,340.70 326.79,341.90 327.42,343.26 328.06,344.60 328.72,345.79 329.38,347.03 330.04,348.29 330.71,349.62 331.38,350.81 332.04,352.02 332.70,353.11 333.35,354.04 333.98,355.02 334.60,355.95 335.21,356.79 335.82,357.71 336.43,358.50 337.04,359.24 337.66,359.79 338.27,360.57 338.88,361.07 339.49,361.68 340.10,362.31 340.71,362.71 341.32,363.23 341.93,363.87 342.54,364.25 343.15,364.73 343.76,365.23 344.37,365.70 344.98,366.01 345.59,366.52 346.20,366.99 346.81,367.43 347.41,367.79 348.02,368.26 348.63,368.71 349.23,368.96 349.84,369.33 350.44,369.58 351.05,369.93 351.65,370.31 352.26,370.49 352.86,370.93 353.47,371.22 354.07,371.33 354.68,371.77 355.28,371.92 355.89,372.26 356.49,372.52 357.09,372.69 357.70,373.04 358.30,373.30 358.88,373.59 359.46,373.73 360.03,374.07 360.59,374.36 361.15,374.53 361.71,374.74 362.27,374.88 362.83,375.18 363.40,375.37 363.98,375.65 364.57,375.85 365.18,376.04 365.80,376.16 366.43,376.46 367.09,376.65 367.77,376.75 368.47,377.09 369.20,377.23 369.72,377.25 370.28,377.54 370.86,377.52 371.47,377.68 372.10,377.89 372.75,378.00 373.42,378.12 374.10,378.26 374.80,378.35 375.50,378.45 376.20,378.54 376.91,378.64 377.62,378.89 378.32,379.01 379.01,379.08 379.70,379.24 380.37,379.27 381.02,379.35 381.66,379.48 382.27,379.67 382.86,379.60 383.42,379.78 383.94,379.81 384.44,379.99 384.89,379.98 385.30,380.05 385.68,380.12 386.00,380.21" fill="none" stroke="#4646a0" stroke-width="1.0" stroke-linejoin="round"/>
<polyline points="241.00,306.44 241.70,306.33 242.40,306.69 243.10,306.43 243.80,306.61 244.50,306.62 245.20,306.73 245.90,307.16 246.60,307.23 247.30,307.06 248.00,307.15 248.70,307.36 249.40,307.61 250.10,307.74 250.80,307.79 251.50,307.80 252.20,307.67 252.90,307.88 253.60,307.86 254.30,308.10 255.00,308.21 255.70,308.10 256.40,308.20 257.10,308.55 257.80,308.25 258.50,308.71 259.20,308.82 259.90,308.93 260.60,308.71 261.30,308.87 262.00,308.95 262.70,309.04 263.40,309.28 264.10,309.20 264.80,309.07 265.50,309.42 266.20,309.29 266.90,309.41 267.60,309.54 268.30,309.24 269.00,309.68 269.70,309.68 270.40,309.65 271.10,309.73 271.80,309.75 272.50,309.67 273.20,309.89 273.90,309.70 274.60,309.98 275.30,310.11 276.00,310.06 276.70,310.17 277.40,310.41 278.10,310.43 278.80,310.10 279.50,310.47 280.20,310.43 280.90,310.19 281.60,310.39 282.30,310.37 283.00,310.34 283.70,310.61 284.40,310.85 285.10,310.58 285.80,310.90 286.50,310.85 287.20,310.61 287.90,311.01 288.60,310.92 289.30,311.12 290.00,311.05 290.70,311.10 291.40,310.94 292.10,311.20 292.80,311.30 293.50,311.30 294.20,311.12 294.90,311.32 295.60,311.21 296.30,311.06 297.00,311.05 297.70,311.10 298.40,311.20 299.10,311.21 299.80,311.40 300.50,311.53 301.20,311.48 301.90,311.45 302.60,311.59 303.30,311.45 304.00,311.56 304.70,311.73 305.40,311.58 306.10,311.49 306.80,311.88 307.50,311.81 308.20,311.66 308.90,311.69 309.60,311.79 310.30,311.85 311.00,311.68 311.70,311.60 312.40,311.72 313.10,312.03 313.80,311.73 314.50,311.91 315.20,311.80 315.90,311.83 316.60,311.83 317.30,311.97 318.00,311.87 318.70,311.82 319.40,311.88 320.10,311.93 320.80,312.11 321.50,311.91 322.20,311.91 322.90,312.14 323.60,312.14 324.30,312.30 325.00,311.99 325.70,312.19 326.40,312.20 327.10,312.03 327.80,312.52 328.50,312.16 329.20,312.11 329.90,312.32 330.60,312.18 331.30,312.42 332.00,312.30 332.70,312.20 333.40,312.18 334.10,312.53 334.80,312.32 335.50,312.59 336.20,312.44 336.90,312.69 337.60,312.38 338.30,312.37 339.00,312.39 339.70,312.68 340.40,312.60 341.10,312.47 341.80,312.35 342.50,312.66 343.20,312.81 343.90,312.63 344.60,312.35 345.30,312.38 346.00,312.42 346.70,312.47 347.40,312.41 348.10,312.43 348.80,312.74 349.50,312.87 350.20,312.53 350.90,312.93 351.60,312.69 352.30,312.86 353.00,312.93 353.70,312.95 354.40,312.50 355.10,312.65 355.80,312.81 356.50,312.99 357.20,312.56 357.90,312.68 358.60,312.96 359.30,312.60 360.00,312.75 360.70,312.73 361.40,312.91 362.10,313.04 362.80,312.67 363.50,312.96 364.20,312.96 364.90,313.02 365.60,312.89 366.30,313.08 367.00,312.81 367.70,312.84 368.40,312.75 369.10,313.03 369.80,312.89 370.50,312.79 371.20,312.75 371.90,313.03 372.60,312.98 373.30,313.04 374.00,312.88 374.70,312.93 375.40,312.77 376.10,313.06 376.80,312.72 377.50,312.95 378.20,313.10 378.90,313.06 379.60,312.78 380.30,312.85 381.00,313.16 381.70,313.06 382.40,313.19 383.10,313.19 383.80,312.98 384.50,313.21 385.20,313.13 385.90,312.94" fill="none" stroke="#d8485a" stroke-width="1.7" stroke-linejoin="round"/>
<polyline points="241.00,306.11 241.70,306.01 242.40,306.34 243.10,306.83 243.80,306.33 244.50,306.76 245.20,306.53 245.90,306.61 246.60,307.10 247.30,306.91 248.00,306.86 248.70,307.03 249.40,307.46 250.10,307.50 250.80,307.19 251.50,307.43 252.20,308.03 252.90,307.58 253.60,307.90 254.30,307.88 255.00,308.21 255.70,308.17 256.40,308.37 257.10,308.27 257.80,308.10 258.50,308.17 259.20,308.17 259.90,308.76 260.60,308.33 261.30,308.34 262.00,309.06 262.70,308.59 263.40,309.14 264.10,308.64 264.80,308.97 265.50,308.86 266.20,309.35 266.90,309.26 267.60,309.33 268.30,309.48 269.00,309.61 269.70,309.30 270.40,309.53 271.10,309.48 271.80,309.30 272.50,309.86 273.20,309.74 273.90,309.95 274.60,309.57 275.30,309.85 276.00,309.85 276.70,310.08 277.40,309.68 278.10,309.91 278.80,310.05 279.50,309.81 280.20,310.19 280.90,310.36 281.60,310.19 282.30,310.39 283.00,310.40 283.70,310.17 284.40,310.30 285.10,310.79 285.80,310.37 286.50,310.48 287.20,310.27 287.90,310.40 288.60,310.40 289.30,310.98 290.00,310.87 290.70,311.01 291.40,311.12 292.10,310.89 292.80,311.15 293.50,310.91 294.20,310.86 294.90,311.26 295.60,311.26 296.30,311.32 297.00,311.03 297.70,311.26 298.40,311.04 299.10,311.48 299.80,311.45 300.50,311.04 301.20,311.52 301.90,311.02 302.60,310.99 303.30,311.45 304.00,311.18 304.70,311.36 305.40,311.47 306.10,311.08 306.80,311.60 307.50,311.29 308.20,311.43 308.90,311.39 309.60,311.69 310.30,311.71 311.00,311.42 311.70,311.31 312.40,311.47 313.10,311.57 313.80,311.36 314.50,311.43 315.20,311.88 315.90,311.85 316.60,312.07 317.30,312.09 318.00,312.03 318.70,311.70 319.40,311.57 320.10,311.70 320.80,311.82 321.50,311.88 322.20,311.91 322.90,311.80 323.60,312.16 324.30,311.78 325.00,311.92 325.70,312.24 326.40,312.20 327.10,311.85 327.80,311.83 328.50,312.24 329.20,311.70 329.90,311.80 330.60,312.09 331.30,312.11 332.00,311.87 332.70,311.80 333.40,311.92 334.10,312.33 334.80,312.13 335.50,312.50 336.20,312.38 336.90,312.53 337.60,311.88 338.30,312.00 339.00,311.89 339.70,312.19 340.40,312.14 341.10,311.95 341.80,312.31 342.50,312.00 343.20,312.17 343.90,312.13 344.60,312.53 345.30,312.27 346.00,312.17 346.70,312.03 347.40,312.31 348.10,312.46 348.80,312.50 349.50,312.68 350.20,312.62 350.90,312.23 351.60,312.16 352.30,312.61 353.00,312.64 353.70,312.45 354.40,312.68 355.10,312.50 355.80,312.32 356.50,312.25 357.20,312.15 357.90,312.59 358.60,312.78 359.30,312.79 360.00,312.49 360.70,312.64 361.40,312.83 362.10,312.76 362.80,312.62 363.50,312.49 364.20,312.57 364.90,312.34 365.60,312.35 366.30,312.71 367.00,312.93 367.70,312.63 368.40,312.53 369.10,312.50 369.80,312.58 370.50,312.83 371.20,312.59 371.90,312.95 372.60,312.39 373.30,312.51 374.00,312.66 374.70,312.59 375.40,312.90 376.10,312.89 376.80,312.97 377.50,312.75 378.20,312.35 378.90,312.73 379.60,312.72 380.30,312.68 381.00,312.54 381.70,312.85 382.40,312.99 383.10,312.43 383.80,312.83 384.50,312.63 385.20,312.73 385.90,313.01" fill="none" stroke="#333" stroke-width="0.8" stroke-linejoin="round" opacity="0.75"/>
<path d="M253.3 306.5 V303 M255 306.5 V302.8" stroke="#6a6ad0" stroke-width="0.9"/>
<line x1="392.5" y1="311.2" x2="402.5" y2="311.2" stroke="#2a2a2a" stroke-width="0.9"/>
<line x1="392.5" y1="320.5" x2="402.5" y2="320.5" stroke="#d85a66" stroke-width="0.8"/>
<line x1="392.5" y1="356.1" x2="402.5" y2="356.1" stroke="#c8c8c8" stroke-width="1.5"/>
<line x1="392.5" y1="379.6" x2="402.5" y2="379.6" stroke="#7c7c92" stroke-width="1.0"/>
<text x="410" y="313.9" font-size="8.8" text-anchor="start" fill="#2a2a2a" font-weight="normal" textLength="17" lengthAdjust="spacingAndGlyphs" stroke="#2a2a2a" stroke-width="0.15">vWF</text>
<text x="410" y="323.8" font-size="8.8" text-anchor="start" fill="#2a2a2a" font-weight="normal" textLength="65.75" lengthAdjust="spacingAndGlyphs" stroke="#2a2a2a" stroke-width="0.15">S100A8/A9+vWF</text>
<text x="410.5" y="358.8" font-size="8.8" text-anchor="start" fill="#2a2a2a" font-weight="normal" textLength="60" lengthAdjust="spacingAndGlyphs" stroke="#2a2a2a" stroke-width="0.15">Ristocetin+vWF</text>
<text x="410" y="382.5" font-size="8.8" text-anchor="start" fill="#2a2a2a" font-weight="normal" textLength="109.5" lengthAdjust="spacingAndGlyphs" stroke="#2a2a2a" stroke-width="0.15">S100A8/A9+Ristocetin+vWF</text>
<text x="216" y="331" font-size="10" text-anchor="middle" fill="#2a2a2a" font-weight="normal" transform="rotate(-90 216 331)" textLength="58.3" lengthAdjust="spacingAndGlyphs" stroke="#2a2a2a" stroke-width="0.15">Aggregation (%)</text>
<line x1="236" y1="362" x2="236" y2="385.6" stroke="#777" stroke-width="1.3"/>
<line x1="235.4" y1="385.6" x2="265" y2="385.6" stroke="#777" stroke-width="1.3"/>
<text x="232.8" y="374" font-size="8.5" text-anchor="middle" fill="#2a2a2a" font-weight="normal" transform="rotate(-90 232.8 374)" textLength="16" lengthAdjust="spacingAndGlyphs" stroke="#2a2a2a" stroke-width="0.15">30%</text>
<text x="241.3" y="395.8" font-size="8.5" text-anchor="start" fill="#2a2a2a" font-weight="normal" textLength="18.3" lengthAdjust="spacingAndGlyphs" stroke="#2a2a2a" stroke-width="0.15">3min</text>
<text x="222.3" y="460.9" font-size="12" text-anchor="start" fill="#111" font-weight="bold">F</text>
<line x1="272" y1="486.4" x2="272" y2="608.2" stroke="#404040" stroke-width="1.45"/>
<line x1="268.5" y1="608.2" x2="351.75" y2="608.2" stroke="#404040" stroke-width="1.45"/>
<line x1="268.5" y1="489.45000000000005" x2="272" y2="489.45000000000005" stroke="#404040" stroke-width="1.45"/>
<text x="266" y="492.45000000000005" font-size="8.5" text-anchor="end" fill="#2a2a2a" font-weight="normal" stroke="#2a2a2a" stroke-width="0.15">100</text>
<line x1="268.5" y1="513.2" x2="272" y2="513.2" stroke="#404040" stroke-width="1.45"/>
<text x="266" y="516.2" font-size="8.5" text-anchor="end" fill="#2a2a2a" font-weight="normal" stroke="#2a2a2a" stroke-width="0.15">80</text>
<line x1="268.5" y1="536.95" x2="272" y2="536.95" stroke="#404040" stroke-width="1.45"/>
<text x="266" y="539.95" font-size="8.5" text-anchor="end" fill="#2a2a2a" font-weight="normal" stroke="#2a2a2a" stroke-width="0.15">60</text>
<line x1="268.5" y1="560.7" x2="272" y2="560.7" stroke="#404040" stroke-width="1.45"/>
<text x="266" y="563.7" font-size="8.5" text-anchor="end" fill="#2a2a2a" font-weight="normal" stroke="#2a2a2a" stroke-width="0.15">40</text>
<line x1="268.5" y1="584.45" x2="272" y2="584.45" stroke="#404040" stroke-width="1.45"/>
<text x="266" y="587.45" font-size="8.5" text-anchor="end" fill="#2a2a2a" font-weight="normal" stroke="#2a2a2a" stroke-width="0.15">20</text>
<line x1="268.5" y1="608.2" x2="272" y2="608.2" stroke="#404040" stroke-width="1.45"/>
<text x="266" y="611.2" font-size="8.5" text-anchor="end" fill="#2a2a2a" font-weight="normal" stroke="#2a2a2a" stroke-width="0.15">0</text>
<rect x="285" y="595.6" width="20" height="12.600000000000023" fill="#6b6b6b"/>
<rect x="318.75" y="584" width="20.25" height="24.200000000000045" fill="url(#hR)"/>
<line x1="295" y1="608.2" x2="295" y2="611.5" stroke="#404040" stroke-width="1.45"/>
<line x1="329.25" y1="608.2" x2="329.25" y2="611.5" stroke="#404040" stroke-width="1.45"/>
<line x1="295" y1="593.1" x2="295" y2="598" stroke="#333" stroke-width="1.3"/>
<line x1="289.7" y1="593.1" x2="300.3" y2="593.1" stroke="#333" stroke-width="1.3"/>
<line x1="329.3" y1="574.4" x2="329.3" y2="591.25" stroke="#333" stroke-width="1.1"/>
<line x1="323" y1="574.4" x2="334.4" y2="574.4" stroke="#333" stroke-width="1.1"/>
<line x1="324" y1="591.25" x2="334.4" y2="591.25" stroke="#333" stroke-width="1.1"/>
<circle cx="295" cy="584.75" r="2.0" fill="#111"/>
<circle cx="287.5" cy="596.25" r="2.0" fill="#111"/>
<circle cx="295" cy="596.5" r="2.0" fill="#111"/>
<circle cx="302.25" cy="594" r="2.0" fill="#111"/>
<circle cx="287.75" cy="601" r="2.0" fill="#111"/>
<circle cx="301.9" cy="599.4" r="2.0" fill="#111"/>
<circle cx="329.25" cy="541.75" r="2.0" fill="#111"/>
<circle cx="325.25" cy="582.25" r="2.0" fill="#111"/>
<circle cx="332.5" cy="584.75" r="2.0" fill="#111"/>
<circle cx="325.25" cy="593.1" r="2.0" fill="#111"/>
<circle cx="332.5" cy="595.6" r="2.0" fill="#111"/>
<circle cx="329.1" cy="599" r="2.0" fill="#111"/>
<text x="265.8" y="623.9" font-size="8.8" text-anchor="end" fill="#2a2a2a" font-weight="normal" textLength="43.3" lengthAdjust="spacingAndGlyphs" stroke="#2a2a2a" stroke-width="0.15">S100A8/A9</text>
<text x="265.8" y="635.4" font-size="8.8" text-anchor="end" fill="#2a2a2a" font-weight="normal" textLength="16.8" lengthAdjust="spacingAndGlyphs" stroke="#2a2a2a" stroke-width="0.15">vWF</text>
<path d="M293.00 621.00 h4 M295.00 619.00 v4" stroke="#333" stroke-width="0.85" fill="none"/>
<path d="M327.25 621.00 h4 M329.25 619.00 v4" stroke="#333" stroke-width="0.85" fill="none"/>
<path d="M292.90 632.80 h4.2" stroke="#444" stroke-width="0.85" fill="none"/>
<path d="M327.25 632.50 h4 M329.25 630.50 v4" stroke="#333" stroke-width="0.85" fill="none"/>
<text x="245" y="549.3" font-size="10" text-anchor="middle" fill="#2a2a2a" font-weight="normal" transform="rotate(-90 245 549.3)" textLength="98" lengthAdjust="spacingAndGlyphs" stroke="#2a2a2a" stroke-width="0.15">Aggregation amplitude (%)</text>
<text x="367.7" y="461.1" font-size="12" text-anchor="start" fill="#111" font-weight="bold">G</text>
<line x1="417.9" y1="489.5" x2="417.9" y2="608.5" stroke="#404040" stroke-width="1.45"/>
<line x1="414.3" y1="608.5" x2="495.8" y2="608.5" stroke="#404040" stroke-width="1.45"/>
<line x1="414.3" y1="500.5" x2="417.9" y2="500.5" stroke="#404040" stroke-width="1.45"/>
<text x="411.3" y="503.5" font-size="8.5" text-anchor="end" fill="#2a2a2a" font-weight="normal" stroke="#2a2a2a" stroke-width="0.15">100</text>
<line x1="414.3" y1="554.5" x2="417.9" y2="554.5" stroke="#404040" stroke-width="1.45"/>
<text x="411.3" y="557.5" font-size="8.5" text-anchor="end" fill="#2a2a2a" font-weight="normal" stroke="#2a2a2a" stroke-width="0.15">50</text>
<line x1="414.3" y1="608.5" x2="417.9" y2="608.5" stroke="#404040" stroke-width="1.45"/>
<text x="411.3" y="611.5" font-size="8.5" text-anchor="end" fill="#2a2a2a" font-weight="normal" stroke="#2a2a2a" stroke-width="0.15">0</text>
<rect x="430.2" y="522.2" width="20.8" height="86.29999999999995" fill="#6e6e6e"/>
<rect x="464" y="502.75" width="20.75" height="105.75" fill="url(#hB)"/>
<line x1="440.5" y1="608.5" x2="440.5" y2="612" stroke="#404040" stroke-width="1.45"/>
<line x1="474.4" y1="608.5" x2="474.4" y2="612" stroke="#404040" stroke-width="1.45"/>
<line x1="440.4" y1="516.5" x2="440.4" y2="525.6" stroke="#222" stroke-width="1.1"/>
<line x1="435" y1="516.5" x2="445.6" y2="516.5" stroke="#222" stroke-width="1.1"/>
<line x1="435.5" y1="525.6" x2="445.3" y2="525.6" stroke="#333" stroke-width="1.1"/>
<line x1="468" y1="500.25" x2="481" y2="500.25" stroke="#222" stroke-width="1.1"/>
<line x1="474.4" y1="500.25" x2="474.4" y2="505" stroke="#222" stroke-width="1.1"/>
<circle cx="440.4" cy="506.9" r="2.0" fill="#111"/>
<circle cx="436.6" cy="514.4" r="2.0" fill="#111"/>
<circle cx="444" cy="516.5" r="2.0" fill="#111"/>
<circle cx="436.6" cy="519" r="2.0" fill="#111"/>
<circle cx="436.6" cy="535" r="2.0" fill="#111"/>
<circle cx="444" cy="535" r="2.0" fill="#111"/>
<circle cx="467.25" cy="500.6" r="2.0" fill="#111"/>
<circle cx="474.4" cy="499.1" r="2.0" fill="#111"/>
<circle cx="481.6" cy="497.75" r="2.0" fill="#111"/>
<circle cx="481.6" cy="502.5" r="2.0" fill="#111"/>
<circle cx="474.4" cy="503.75" r="2.0" fill="#111"/>
<circle cx="474.4" cy="507.5" r="2.0" fill="#111"/>
<path d="M439.8 490.8 V483.9 H474.3 V490.8" fill="none" stroke="#444" stroke-width="1.1"/>
<circle cx="455.45" cy="478" r="1.1" fill="#262626"/>
<circle cx="458.65000000000003" cy="478" r="1.1" fill="#262626"/>
<text x="411.2" y="623.9" font-size="8.8" text-anchor="end" fill="#2a2a2a" font-weight="normal" textLength="43.3" lengthAdjust="spacingAndGlyphs" stroke="#2a2a2a" stroke-width="0.15">S100A8/A9</text>
<text x="411.2" y="635.8" font-size="8.8" text-anchor="end" fill="#2a2a2a" font-weight="normal" textLength="16.5" lengthAdjust="spacingAndGlyphs" stroke="#2a2a2a" stroke-width="0.15">vWF</text>
<text x="411.2" y="647.5" font-size="8.8" text-anchor="end" fill="#2a2a2a" font-weight="normal" textLength="36.6" lengthAdjust="spacingAndGlyphs" stroke="#2a2a2a" stroke-width="0.15">Ristocetin</text>
<path d="M438.10 621.30 h4.2" stroke="#444" stroke-width="0.85" fill="none"/>
<path d="M472.40 621.00 h4 M474.40 619.00 v4" stroke="#333" stroke-width="0.85" fill="none"/>
<path d="M438.20 632.90 h4 M440.20 630.90 v4" stroke="#333" stroke-width="0.85" fill="none"/>
<path d="M472.40 632.90 h4 M474.40 630.90 v4" stroke="#333" stroke-width="0.85" fill="none"/>
<path d="M438.20 644.60 h4 M440.20 642.60 v4" stroke="#333" stroke-width="0.85" fill="none"/>
<path d="M472.40 644.60 h4 M474.40 642.60 v4" stroke="#333" stroke-width="0.85" fill="none"/>
<text x="389" y="547.4" font-size="10" text-anchor="middle" fill="#2a2a2a" font-weight="normal" transform="rotate(-90 389 547.4)" textLength="100" lengthAdjust="spacingAndGlyphs" stroke="#2a2a2a" stroke-width="0.15">Aggregation amplitude (%)</text>
</svg>
</body></html>
